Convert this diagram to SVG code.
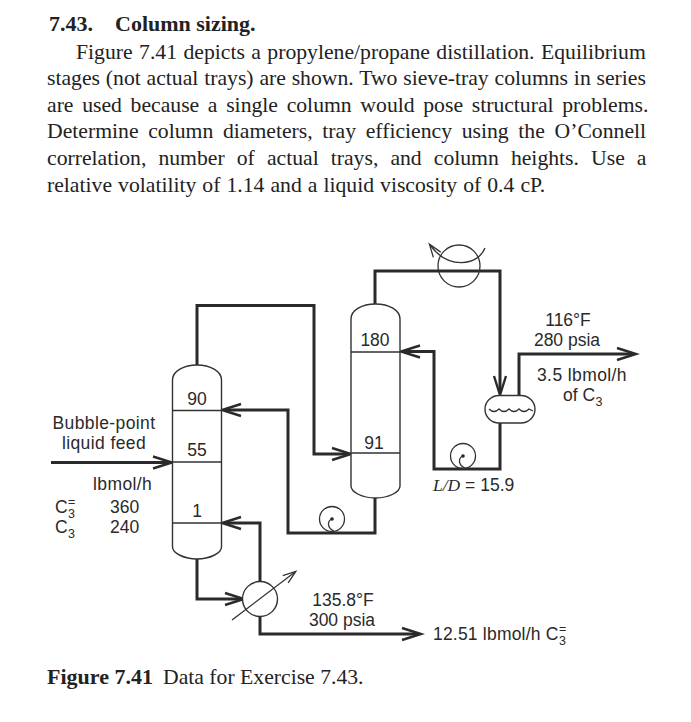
<svg xmlns="http://www.w3.org/2000/svg" width="691" height="722" viewBox="0 0 691 722">
<style>
.body{font-family:"Liberation Serif",serif;font-size:21.7px;fill:#222}
.bold{font-family:"Liberation Serif",serif;font-size:22px;font-weight:bold;fill:#222}
.lab{font-family:"Liberation Sans",Arial,sans-serif;font-size:17.5px;fill:#2a2a2a}
.wide{letter-spacing:.4px}
.sub{font-size:12.5px;letter-spacing:0}
.m{text-anchor:middle}
.pipe{fill:none;stroke:#2a2a2a;stroke-width:3;stroke-linejoin:miter}
.thin{fill:none;stroke:#333;stroke-width:1.3}
.vessel{fill:#fff;stroke:#333;stroke-width:1.4}
</style>
<defs>
<marker id="head" markerUnits="userSpaceOnUse" markerWidth="26" markerHeight="18" refX="20" refY="9" orient="auto"><path d="M3,3 L22,9 L3,15" fill="none" stroke="#2a2a2a" stroke-width="2.4"/></marker>
<marker id="small" markerUnits="userSpaceOnUse" markerWidth="20" markerHeight="14" refX="14" refY="7" orient="auto"><path d="M2,2.5 L15,7 L2,11.5" fill="none" stroke="#333" stroke-width="1.3"/></marker>
</defs>
<rect width="691" height="722" fill="#fff"/>
<g id="exercise-text">
<text class="bold" x="49" y="31">7.43.</text>
<text class="bold" x="115" y="31">Column sizing.</text>
<text class="body" x="76" y="58.5" word-spacing="1">Figure 7.41 depicts a propylene/propane distillation. Equilibrium</text>
<text class="body" x="47" y="85" word-spacing="0.4">stages (not actual trays) are shown. Two sieve-tray columns in series</text>
<text class="body" x="47" y="111.5" word-spacing="3.25">are used because a single column would pose structural problems.</text>
<text class="body" x="47" y="138" word-spacing="4.25">Determine column diameters, tray efficiency using the O’Connell</text>
<text class="body" x="47" y="165" word-spacing="6.65">correlation, number of actual trays, and column heights. Use a</text>
<text class="body" x="47" y="192" word-spacing="0.6">relative volatility of 1.14 and a liquid viscosity of 0.4 cP.</text>
</g>
<g id="connectors">
<path class="pipe" d="M197,365 V305.5 H314 V454 H349" marker-end="url(#head)"/>
<path class="pipe" d="M375,498 V533 H288 V410 H224" marker-end="url(#head)"/>
<path class="pipe" d="M260,582 V523 H224" marker-end="url(#head)"/>
<path class="pipe" d="M197,559 V599 H242" marker-end="url(#head)"/>
<path class="pipe" d="M260,616 V634 H419" marker-end="url(#head)"/>
<path class="pipe" d="M51,462.500 H170" marker-end="url(#head)"/>
<path class="pipe" d="M375,304 V271 H500 V393" marker-end="url(#head)"/>
<path class="pipe" d="M519,395 V354 H634" marker-end="url(#head)"/>
<path class="pipe" d="M500,423 V469 H434 V351.500 H403" marker-end="url(#head)"/>
</g>
<g id="column-1">
<path class="vessel" d="M172.500,380 C172.500,371 184,365 197,365 C210,365 221.500,371 221.500,380 V547 C221.500,553 210,559 197,559 C184,559 172.500,553 172.500,547 Z"/>
<path class="thin" d="M172.500,410.500 H221.500 M172.500,462 H221.500 M172.500,523 H221.500"/>
<text class="lab m" x="197" y="405">90</text>
<text class="lab m" x="197" y="456">55</text>
<text class="lab m" x="197" y="517">1</text>
</g>
<g id="column-2">
<path class="vessel" d="M351,319 C351,310 362,304 375.500,304 C389,304 400,310 400,319 V486 C400,492 389,498 375.500,498 C362,498 351,492 351,486 Z"/>
<path class="thin" d="M351,352 H400 M351,453 H400"/>
<text class="lab m" x="375" y="346">180</text>
<text class="lab m" x="374" y="449">91</text>
</g>
<g id="condenser">
<circle class="thin" cx="459" cy="266" r="21"/>
<path class="thin" d="M485,248 C478,266 448,270 430,245" marker-end="url(#small)"/>
</g>
<g id="accumulator">
<rect class="vessel" x="485" y="395.500" width="50" height="27.500" rx="14" ry="14"/>
<path class="thin" d="M489,409 Q494,414 499,409 Q504,414 509,409 Q514,414 519,409 Q524,414 529,409 L533,411"/>
</g>
<g id="reflux-pump">
<circle class="thin" cx="463" cy="456" r="12.500"/>
<circle cx="463" cy="456" r="1.800" fill="#222"/>
<path class="thin" d="M463,456 C458,458 458,465 465,468"/>
</g>
<g id="transfer-pump">
<circle class="thin" cx="332" cy="519" r="12.500"/>
<circle cx="332" cy="519" r="1.800" fill="#222"/>
<path class="thin" d="M332,519 C327,521 327,528 334,531"/>
</g>
<g id="reboiler">
<circle class="vessel" cx="260" cy="599" r="17.500"/>
<path class="thin" d="M232,620 L295,572" marker-end="url(#small)"/>
</g>
<g id="labels">
<text class="lab m wide" x="104" y="429">Bubble-point</text>
<text class="lab m wide" x="104" y="449">liquid feed</text>
<text class="lab wide" x="93" y="490">lbmol/h</text>
<text class="lab" x="55" y="513">C<tspan class="sub" dx="0.4" dy="-7">=</tspan><tspan class="sub" dx="-7.3" dy="12">3</tspan></text>
<text class="lab" x="110" y="513">360</text>
<text class="lab" x="55" y="533">C<tspan class="sub" dx="0.4" dy="5">3</tspan></text>
<text class="lab" x="110" y="533">240</text>
<text class="lab m" x="568" y="326">116°F</text>
<text class="lab m" x="567" y="346">280 psia</text>
<text class="lab m wide" x="582" y="381">3.5 lbmol/h</text>
<text class="lab" x="563" y="401">of C<tspan class="sub" dx="0.4" dy="5">3</tspan></text>
<text x="433" y="491" class="lab"><tspan font-family="Liberation Serif" font-style="italic">L/D</tspan> = 15.9</text>
<text class="lab m" x="343" y="606">135.8°F</text>
<text class="lab m" x="342" y="626">300 psia</text>
<text class="lab" x="433" y="640" letter-spacing="0.2">12.51 lbmol/h C<tspan class="sub" dx="0.4" dy="-7">=</tspan><tspan class="sub" dx="-7.3" dy="12">3</tspan></text>
</g>
<g id="caption">
<text class="bold" x="47" y="684" font-size="21.5">Figure 7.41</text>
<text class="body" x="163" y="684">Data for Exercise 7.43.</text>
</g>
</svg>
